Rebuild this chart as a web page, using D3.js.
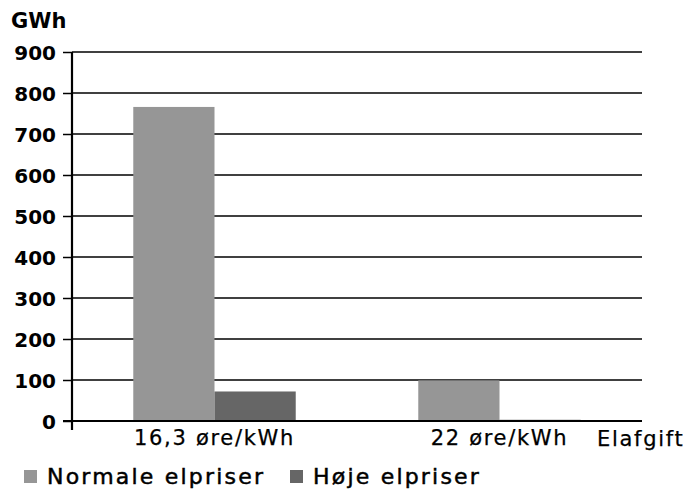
<!DOCTYPE html>
<html><head><meta charset="utf-8">
<script src="https://cdn.jsdelivr.net/npm/d3@7"></script>
<style>body{margin:0;background:#fff}svg{display:block}</style>
</head><body>
<svg id="c" width="696" height="490"></svg>
<script>
const categories = ["16,3 øre/kWh", "22 øre/kWh"];
const series = ["Normale elpriser", "Høje elpriser"];
const normale = [766, 99];
const hoeje = [72, 3];
const yTicks = [0,100,200,300,400,500,600,700,800,900];
const colors = ["#969696", "#666666"];

const svg = d3.select("#c");
const font = "'DejaVu Sans', sans-serif";
const L = 72, R = 642, T = 52, B = 421;
const y = d3.scaleLinear().domain([0, 900]).range([B, T]);
const x0 = d3.scaleBand().domain(categories).range([L, R]).padding(0);
const x1 = d3.scaleBand().domain(series).range([x0.bandwidth()*0.215, x0.bandwidth()*0.785]).padding(0);

// gridlines
svg.append("g").selectAll("line").data(yTicks.filter(d => d > 0)).join("line")
  .attr("x1", L).attr("x2", R).attr("y1", d => y(d)).attr("y2", d => y(d))
  .attr("stroke", "#000").attr("stroke-width", 1.4);

// bars
const data = categories.map((c, i) => ({c, vals: [normale[i], hoeje[i]]}));
const g = svg.append("g").selectAll("g").data(data).join("g")
  .attr("transform", d => `translate(${x0(d.c)},0)`);
g.selectAll("rect").data(d => d.vals.map((v, j) => ({s: series[j], v, j}))).join("rect")
  .attr("x", d => x1(d.s)).attr("width", x1.bandwidth())
  .attr("y", d => y(d.v)).attr("height", d => y(0) - y(d.v))
  .attr("fill", d => colors[d.j]);

// y axis
const yAxis = d3.axisLeft(y).tickValues(yTicks).tickSize(9).tickPadding(7).tickFormat(d3.format("d"));
const ya = svg.append("g").attr("transform", `translate(${L},0)`).call(yAxis);
ya.select(".domain").attr("stroke", "#000").attr("stroke-width", 2.2).attr("d", `M0,${T}V${B+9}`);
ya.selectAll(".tick line").attr("stroke", "#000").attr("stroke-width", 1.5);
ya.selectAll(".tick text").attr("font-family", font).attr("font-weight", "bold")
  .attr("font-size", 20).attr("fill", "#000").attr("dy", "0.35em");

// x axis
const xAxis = d3.axisBottom(x0).tickSize(0).tickPadding(9);
const xa = svg.append("g").attr("transform", `translate(0,${B})`).call(xAxis);
xa.select(".domain").attr("stroke", "#000").attr("stroke-width", 2.2).attr("d", `M${L-9},0H${R}`);
xa.selectAll(".tick text").attr("font-family", font).attr("font-size", 21)
  .attr("fill", "#000").attr("letter-spacing", 1.7).attr("dy", "0.71em")
  .attr("stroke", "#000").attr("stroke-width", 0.25);

svg.append("text").attr("x", 597).attr("y", 446).attr("font-family", font)
  .attr("font-size", 21).attr("letter-spacing", 1.7)
  .attr("stroke", "#000").attr("stroke-width", 0.25).text("Elafgift");

svg.append("text").attr("x", 11).attr("y", 28).attr("font-family", font)
  .attr("font-weight", "bold").attr("font-size", 21).text("GWh");

// legend
const legX = [24, 290];
const lg = svg.append("g").selectAll("g").data(series).join("g")
  .attr("transform", (d, i) => `translate(${legX[i]},470)`);
lg.append("rect").attr("width", 13).attr("height", 13).attr("fill", (d, i) => colors[i]);
lg.append("text").attr("x", 23).attr("y", 13.5).attr("font-family", font)
  .attr("font-size", 22).attr("letter-spacing", 2.2)
  .attr("stroke", "#000").attr("stroke-width", 0.5).text(d => d);
</script>
</body></html>
